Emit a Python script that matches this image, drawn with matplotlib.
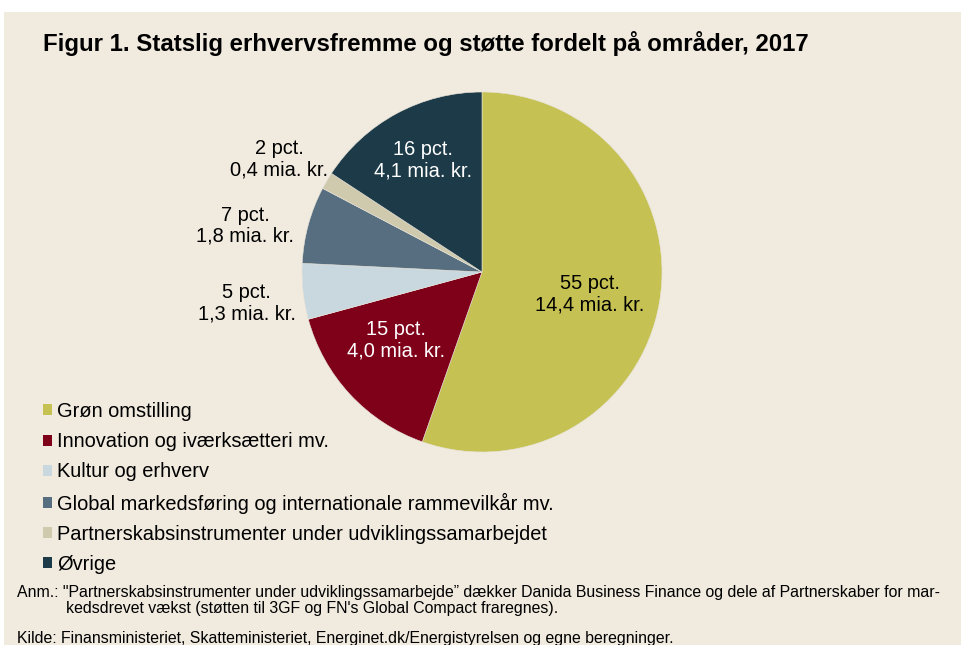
import matplotlib
matplotlib.use("Agg")
import matplotlib.pyplot as plt
from matplotlib.patches import Rectangle
import numpy as np

plt.rcParams['font.family'] = ['Liberation Sans', 'DejaVu Sans']

# ---- data ----
categories = [
    "Grøn omstilling",
    "Innovation og iværksætteri mv.",
    "Kultur og erhverv",
    "Global markedsføring og internationale rammevilkår mv.",
    "Partnerskabsinstrumenter under udviklingssamarbejdet",
    "Øvrige",
]
values_bn = [14.4, 4.0, 1.3, 1.8, 0.4, 4.1]          # mia. kr.
percent_labels = [55, 15, 5, 7, 2, 16]                # pct.

colors = ["#C5C152", "#7F0019", "#C9D7DE", "#566E80", "#CFCAAE", "#1C3A47"]
label_colors = ["black", "white", "black", "black", "black", "white"]
label_dist = [0.61, 0.61, 1.32, 1.34, 1.29, 0.70]
label_angle_off = [-1.8, -4.6, 1.3, 4.2, 1.4, -0.6]

title = "Figur 1. Statslig erhvervsfremme og støtte fordelt på områder, 2017"
note1 = "Anm.: \"Partnerskabsinstrumenter under udviklingssamarbejde\u201d dækker Danida Business Finance og dele af Partnerskaber for mar-"
note2 = "kedsdrevet vækst (støtten til 3GF og FN's Global Compact fraregnes)."
source = "Kilde: Finansministeriet, Skatteministeriet, Energinet.dk/Energistyrelsen og egne beregninger."

W, H = 962, 645
fig = plt.figure(figsize=(W / 100, H / 100), dpi=100, facecolor="white")

def fx(px):
    return px / W

def fy(py):
    return 1 - py / H

bg = "#F0EADF"
fig.patches.append(Rectangle((fx(4), 0), 1.0, fy(12), transform=fig.transFigure,
                             facecolor=bg, edgecolor="none", zorder=-10))

# pie axes: center (482, 272) px, radius 180 px
cx, cy, r = 482, 272, 180
ax = fig.add_axes([fx(cx - r), fy(cy + r), 2 * r / W, 2 * r / H])
ax.set_zorder(2)

wedges, _ = ax.pie(values_bn, colors=colors, startangle=90, counterclock=False,
                   radius=1, wedgeprops=dict(linewidth=0.4, edgecolor="#E8E4DA"))
ax.set_aspect("auto")
ax.set_xlim(-1, 1)
ax.set_ylim(-1, 1)
ax.axis("off")

for w, p, v, c, d, off in zip(wedges, percent_labels, values_bn, label_colors,
                             label_dist, label_angle_off):
    mid = np.deg2rad((w.theta1 + w.theta2) / 2 + off)
    txt = f"{p} pct.\n" + f"{v:.1f}".replace(".", ",") + " mia. kr."
    ax.text(d * np.cos(mid), d * np.sin(mid), txt, ha="center", va="center",
            color=c, fontsize=14.4, linespacing=1.15, clip_on=False)

fig.text(fx(43), fy(43), title, fontsize=17.3, fontweight="bold", ha="left", va="center")

leg = fig.legend(wedges, categories, loc="upper left", bbox_to_anchor=(fx(43), fy(402)),
                 frameon=False, fontsize=14.4, handlelength=0.47, handleheight=0.47,
                 handletextpad=0.25, labelspacing=0.56, borderaxespad=0, borderpad=0)
for h in leg.legend_handles:
    h.set_linewidth(0)

fig.text(fx(17), fy(592), note1, fontsize=11.4, ha="left", va="center")
fig.text(fx(66), fy(609), note2, fontsize=11.4, ha="left", va="center")
fig.text(fx(17), fy(638), source, fontsize=11.4, ha="left", va="center")

fig.savefig("out.png", dpi=100, facecolor="white")
